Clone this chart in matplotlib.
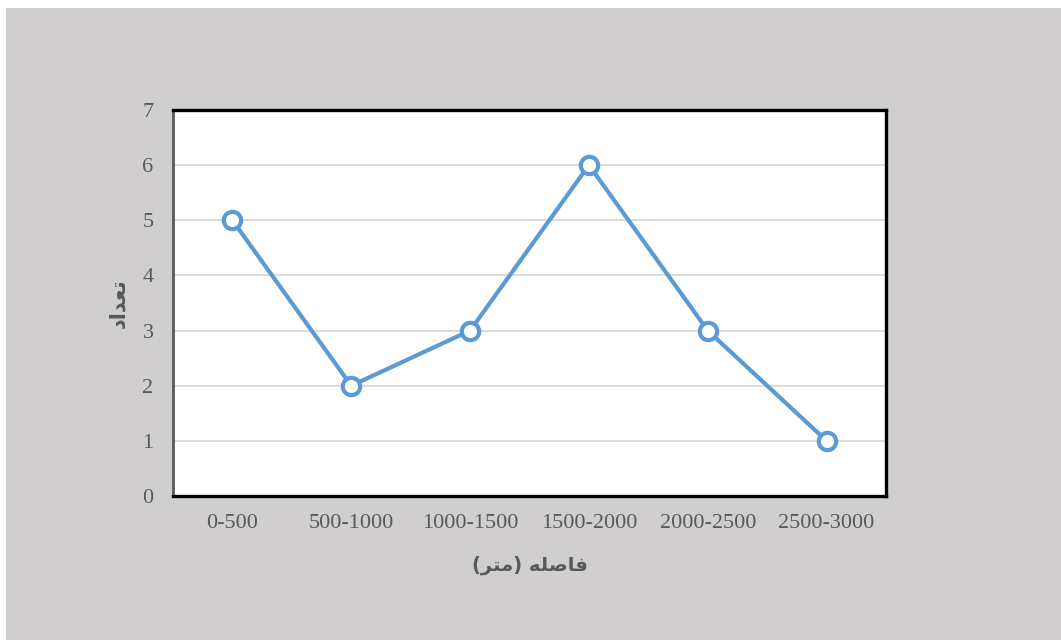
import matplotlib
matplotlib.use("Agg")
import matplotlib.pyplot as plt
from matplotlib.patches import Rectangle

categories = ["0-500", "500-1000", "1000-1500", "1500-2000", "2000-2500", "2500-3000"]
counts = [5, 2, 3, 6, 3, 1]
yticks = [0, 1, 2, 3, 4, 5, 6, 7]

# Arabic labels written with presentation forms in visual order
ylabel_text = "\uFEA9\uFE8D\uFEAA\uFECC\uFE97"  # تعداد
xlabel_text = "(" + "\uFEAE\uFE98\uFEE3" + ")" + " " + "\uFEEA\uFEE0\uFEBB\uFE8E\uFED3"  # فاصله (متر)

fig = plt.figure(figsize=(10.61, 6.4), dpi=100, facecolor="white")
bg = Rectangle((6/1061, 0), 1 - 6/1061, 1 - 8/640, transform=fig.transFigure,
               facecolor="#D0CECE", edgecolor="none", zorder=-10)
fig.patches.append(bg)

ax = fig.add_axes([173/1061, 1 - 496/640, (886-173)/1061, (496-110)/640])
ax.set_zorder(5)
ax.set_facecolor("white")

x = list(range(len(categories)))
ax.plot(x, counts, color="#5B9BD5", lw=3.0, marker="o", markersize=12.5,
        markerfacecolor="white", markeredgecolor="#5B9BD5", markeredgewidth=3.0,
        zorder=3, clip_on=False)

ax.set_xlim(-0.5, len(categories) - 0.5)
ax.set_ylim(0, 7)
ax.set_yticks(yticks)
ax.set_xticks(x)
ax.set_xticklabels(categories)
ax.yaxis.grid(True, color="#D9D9D9", lw=1.3)
ax.set_axisbelow(True)

ax.tick_params(axis="both", length=0, labelsize=16, labelcolor="#595959")
ax.tick_params(axis="y", pad=14)
ax.tick_params(axis="x", pad=13)
for lab in ax.get_xticklabels() + ax.get_yticklabels():
    lab.set_fontfamily("Liberation Serif")

for side in ["top", "right", "bottom"]:
    ax.spines[side].set_color("black")
    ax.spines[side].set_linewidth(2.4)
ax.spines["left"].set_color("#595959")
ax.spines["left"].set_linewidth(2.0)

ax.set_ylabel(ylabel_text, fontsize=15, fontweight="bold", color="#595959",
              family=["DejaVu Sans"], labelpad=10)
ax.set_xlabel(xlabel_text, fontsize=14, fontweight="bold", color="#595959",
              family=["DejaVu Sans"], labelpad=16)

fig.savefig("out.png", dpi=100, facecolor=fig.get_facecolor())
